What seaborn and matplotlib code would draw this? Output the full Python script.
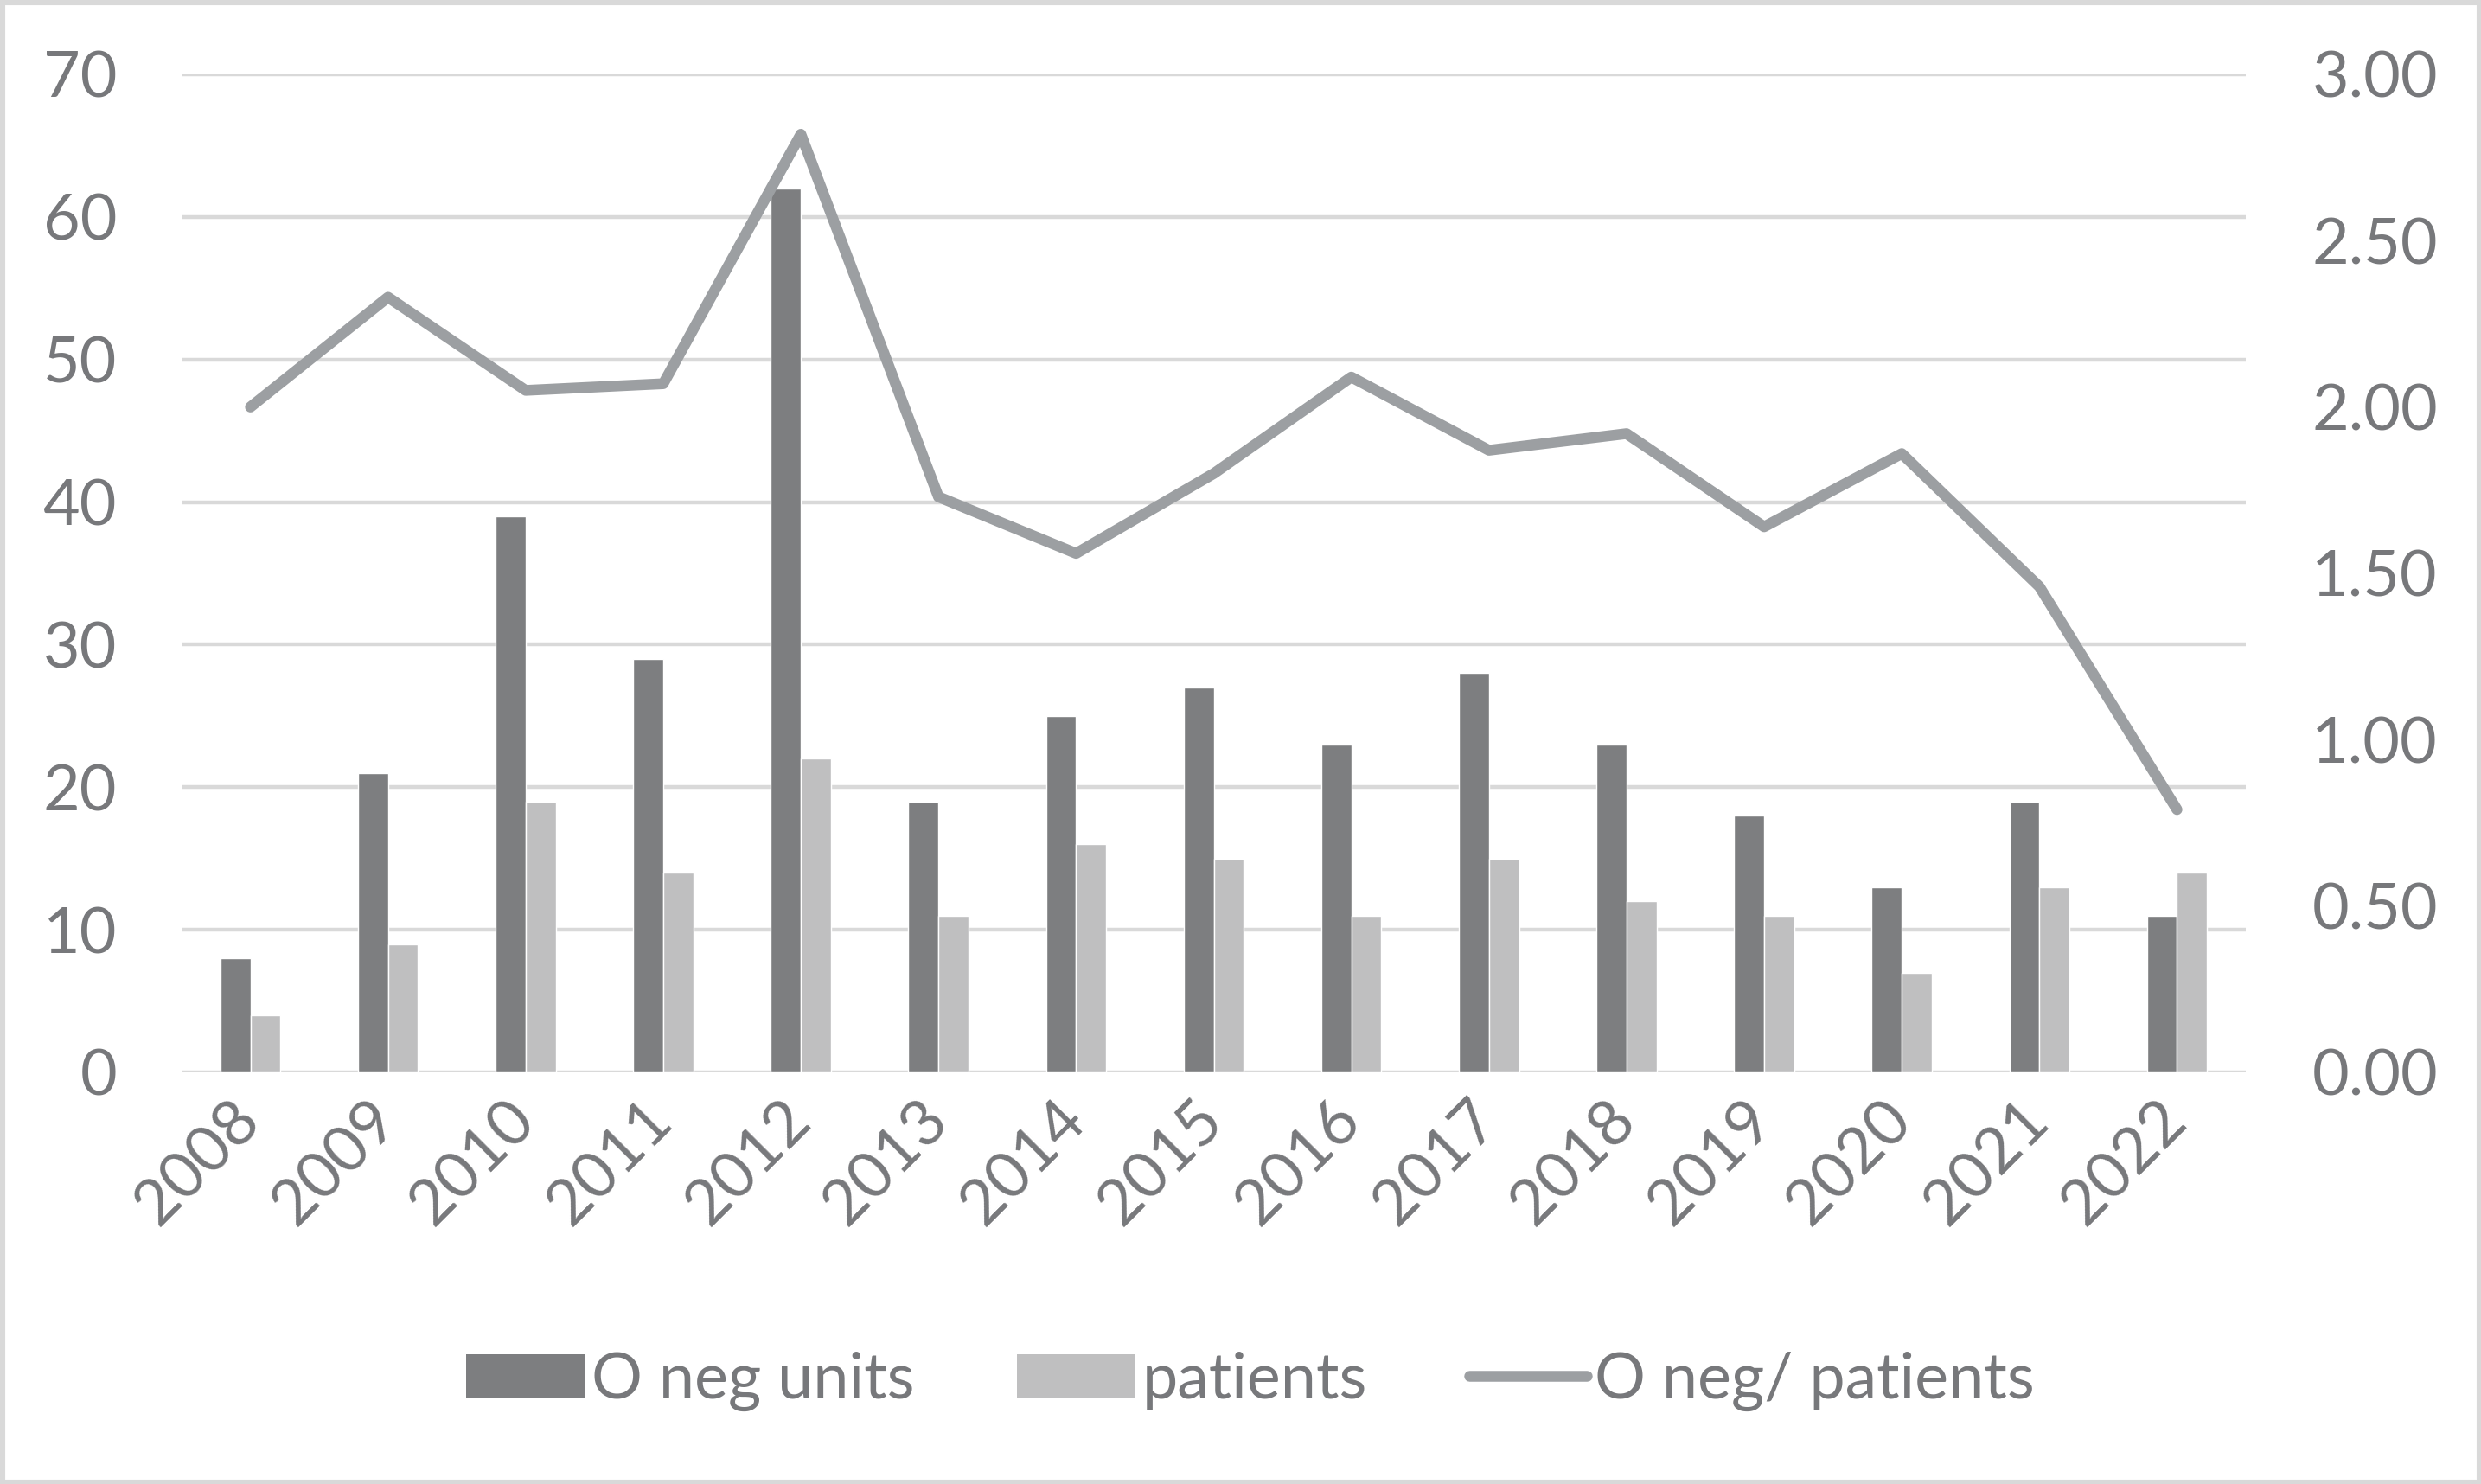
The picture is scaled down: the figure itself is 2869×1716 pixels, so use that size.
import numpy as np
import pandas as pd
import seaborn as sns
import matplotlib.pyplot as plt
from matplotlib.patches import Rectangle, Patch
from matplotlib.lines import Line2D

# --- dados ---
years = ['2008', '2009', '2010', '2011', '2012', '2013', '2014', '2015',
         '2016', '2017', '2018', '2019', '2020', '2021', '2022']
oneg_units = [8, 21, 39, 29, 62, 19, 25, 27, 23, 28, 23, 18, 13, 19, 11]
patients = [4, 9, 19, 14, 22, 11, 16, 15, 11, 15, 12, 11, 7, 13, 14]
ratio = [2.00, 2.33, 2.05, 2.07, 2.82, 1.73, 1.56, 1.80, 2.09, 1.87, 1.92,
         1.64, 1.86, 1.46, 0.79]
left_ticks = [0, 10, 20, 30, 40, 50, 60, 70]
right_ticks = [0.0, 0.5, 1.0, 1.5, 2.0, 2.5, 3.0]

dark = '#7d7e80'
light = '#bfbfc0'
line_c = '#9c9fa2'
grid_c = '#d9d9d9'
txt_c = '#77787b'

df = pd.DataFrame({'year': years * 2,
                   'value': oneg_units + patients,
                   'serie': ['O neg units'] * len(years) + ['patients'] * len(years)})

sns.set_style('white')
plt.rcParams['font.family'] = ['Lato', 'DejaVu Sans']
fs = 53

fig = plt.figure(figsize=(28.69, 17.16), dpi=100)
ax = fig.add_axes([0.0732, 0.2774, 0.9052 - 0.0732, 0.9499 - 0.2774])

sns.barplot(data=df, x='year', y='value', hue='serie', order=years,
            palette=[dark, light], width=0.437, gap=0, saturation=1,
            legend=False, ax=ax, zorder=2)

ax.set_ylim(0, 70)
ax.set_yticks(left_ticks)
ax.yaxis.grid(True, color=grid_c, linewidth=3.2, zorder=0)
ax.set_axisbelow(True)
ax.set_xlabel('')
ax.set_ylabel('')
for s in ax.spines.values():
    s.set_visible(False)
ax.tick_params(axis='y', length=0, pad=54, labelsize=fs, labelcolor=txt_c)
ax.tick_params(axis='x', length=0, pad=32, labelsize=fs, labelcolor=txt_c)
for lab in ax.get_xticklabels():
    lab.set_rotation(45)
    lab.set_ha('right')
    lab.set_va('center')
    lab.set_rotation_mode('anchor')

# eixo secundário com a razão
ax2 = ax.twinx()
sns.pointplot(x=years, y=ratio, order=years, ax=ax2, color=line_c,
              markers='', linewidth=9, errorbar=None)
for ln in ax2.lines:
    ln.set_solid_capstyle('round')
    ln.set_solid_joinstyle('round')
ax2.set_ylim(0, 3)
ax2.set_yticks(right_ticks)
ax2.set_yticklabels([f'{t:.2f}' for t in right_ticks])
for s in ax2.spines.values():
    s.set_visible(False)
ax2.tick_params(axis='y', length=0, pad=55, labelsize=fs, labelcolor=txt_c)
ax2.set_ylabel('')
ax.set_xlim(-0.5, len(years) - 0.5)

handles = [Patch(facecolor=dark, edgecolor='none'),
           Patch(facecolor=light, edgecolor='none'),
           Line2D([], [], color=line_c, linewidth=9, solid_capstyle='round')]
labels = ['O neg units', 'patients', 'O neg/ patients']
leg = fig.legend(handles, labels, loc='center', bbox_to_anchor=(0.504, 0.069),
                 ncol=3, frameon=False, fontsize=fs, handlelength=1.85,
                 handletextpad=0.12, columnspacing=1.6)
for t in leg.get_texts():
    t.set_color(txt_c)

fig.patches.append(Rectangle((0, 0), 1, 1, transform=fig.transFigure, fill=False,
                             edgecolor=grid_c, linewidth=8))

fig.savefig('out.png', dpi=100, facecolor='white')
